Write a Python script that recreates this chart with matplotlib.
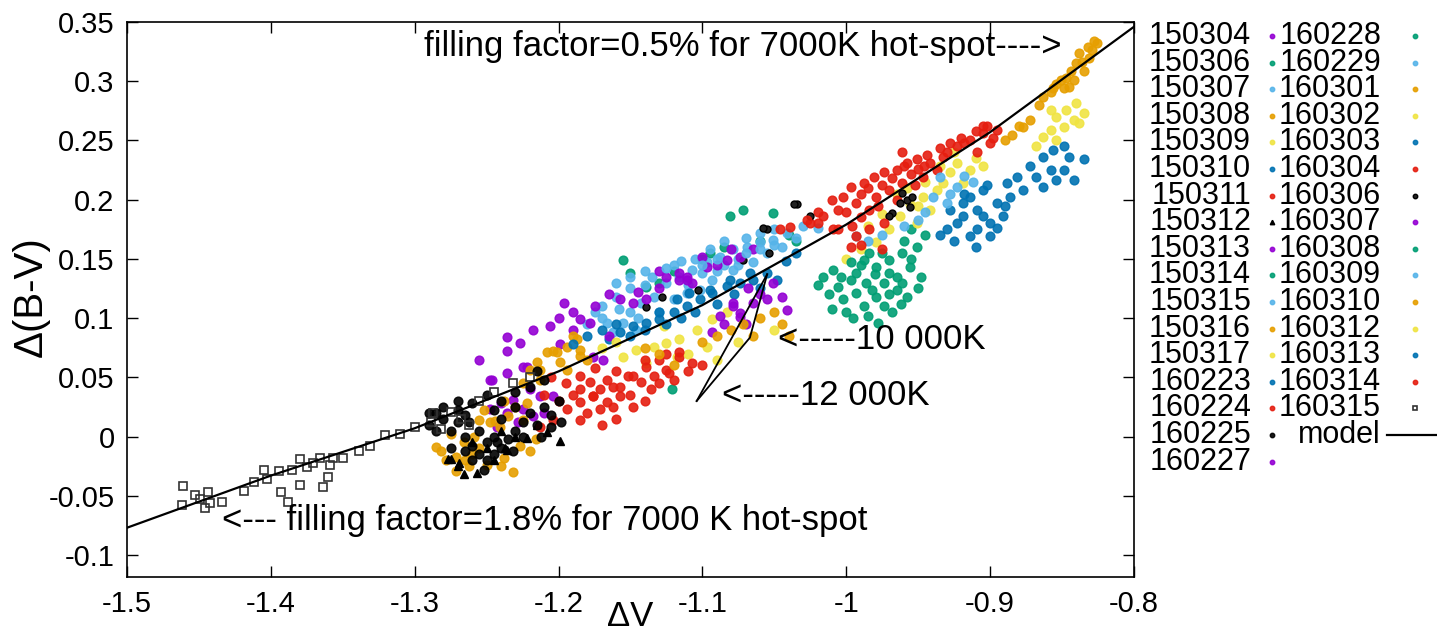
import matplotlib
matplotlib.use("Agg")
import matplotlib.pyplot as plt

plt.rcParams['font.family'] = ['Liberation Sans', 'DejaVu Sans']

# ---------------- data ----------------
labels = ["150304", "150306", "150307", "150308", "150309", "150310", "150311", "150312",
          "150313", "150314", "150315", "150316", "150317", "160223", "160224", "160225",
          "160227", "160228", "160229", "160301", "160302", "160303", "160304", "160306",
          "160307", "160308", "160309", "160310", "160312", "160313", "160314", "160315"]

s150304 = [(-1.236,0.054),(-1.248,0.048),(-1.222,0.059),(-1.248,0.023),(-1.236,0.020),(-1.225,0.023),
           (-1.218,0.017),(-1.232,0.031),(-1.213,0.034),(-1.204,0.034),(-1.243,0.008),(-1.246,0.048),
           (-1.225,0.059),(-1.240,0.028),(-1.228,0.012),(-1.210,0.020),(-1.220,0.040)]
s150306 = [(-1.155,0.149),(-1.150,0.138),(-1.139,0.126),(-1.081,0.186),(-1.072,0.191),(-1.051,0.189),
           (-1.121,0.040),(-1.130,0.130),(-1.095,0.155)]
s150307 = [(-1.162,0.088),(-1.155,0.096),(-1.150,0.105),(-1.143,0.113),(-1.134,0.118),(-1.125,0.130),
           (-1.166,0.096),(-1.146,0.090),(-1.130,0.105),(-1.120,0.116),(-1.170,0.100),(-1.158,0.108),
           (-1.170,0.110),(-1.160,0.118),(-1.150,0.125),(-1.140,0.128),(-1.135,0.135),(-1.180,0.095),
           (-1.175,0.105),(-1.145,0.100)]
s150308 = [(-1.285,-0.009),(-1.282,-0.012),(-1.271,-0.017),(-1.262,-0.025),(-1.250,-0.024),(-1.255,0.014),
           (-1.248,0.012),(-1.241,0.008),(-1.259,0.000),(-1.227,-0.008),(-1.235,0.017),(-1.225,0.014),
           (-1.266,-0.005),(-1.271,-0.029),(-1.244,0.013),(-1.260,-0.015),(-1.238,-0.018),(-1.275,0.002),
           (-1.216,-0.002),(-1.230,0.025),(-1.278,-0.020),(-1.265,-0.020),(-1.255,-0.010),(-1.240,-0.025),
           (-1.232,-0.030),(-1.220,-0.012),(-1.252,0.022),(-1.238,0.030),(-1.222,0.028)]
s150309 = [(-1.155,0.067),(-1.146,0.073),(-1.134,0.076),(-1.125,0.079),(-1.116,0.082),(-1.104,0.090),
           (-1.093,0.099),(-1.083,0.105),(-1.118,0.067),(-1.097,0.076),(-1.139,0.062),(-1.127,0.093)]
s150310 = [(-1.157,0.088),(-1.148,0.093),(-1.139,0.096),(-1.130,0.099),(-1.120,0.105),(-1.111,0.110),
           (-1.102,0.116),(-1.093,0.121),(-1.083,0.127),(-1.074,0.130),(-1.065,0.132),(-1.055,0.138),
           (-1.165,0.082),(-1.150,0.085),(-1.140,0.090),(-1.125,0.095),(-1.115,0.100),(-1.105,0.105),
           (-1.090,0.112),(-1.078,0.120),(-1.060,0.125),(-1.048,0.132)]
s150311 = [(-1.185,0.051),(-1.178,0.046),(-1.171,0.040),(-1.162,0.042),(-1.152,0.051),(-1.143,0.046),
           (-1.134,0.051),(-1.125,0.056),(-1.157,0.034),(-1.166,0.029),(-1.185,0.029),(-1.176,0.034),
           (-1.116,0.067)]
s150312 = [(-1.277,-0.019),(-1.270,-0.025),(-1.266,-0.032),(-1.257,-0.031),(-1.236,-0.011),(-1.222,-0.001),
           (-1.208,0.004),(-1.275,-0.019),(-1.269,-0.022),(-1.237,-0.010),(-1.199,-0.004),(-1.250,-0.010),
           (-1.245,-0.020),(-1.260,-0.005),(-1.230,0.000),(-1.215,0.010),(-1.240,0.005)]
s150313 = [(-1.196,0.113),(-1.185,0.099),(-1.178,0.096),(-1.206,0.093),(-1.218,0.090),(-1.227,0.079),
           (-1.236,0.084),(-1.236,0.072),(-1.199,0.078),(-1.176,0.067),(-1.169,0.065),(-1.255,0.065),
           (-1.190,0.105),(-1.165,0.085),(-1.200,0.100),(-1.190,0.090),(-1.175,0.110),(-1.165,0.120)]
s150314 = [(-1.120,0.140),(-1.100,0.150),(-1.060,0.165),(-1.040,0.170),(-1.085,0.160),(-1.035,0.165),
           (-0.960,0.165),(-0.955,0.175),(-0.945,0.170)]
s150315 = [(-1.116,0.135),(-1.107,0.141),(-1.097,0.147),(-1.088,0.152),(-1.111,0.121),(-1.102,0.124),
           (-1.093,0.132),(-1.079,0.141),(-1.100,0.138),(-1.085,0.145),(-1.120,0.145),(-1.105,0.150),
           (-1.095,0.158),(-1.110,0.128),(-1.090,0.140),(-1.075,0.145)]
s150316 = [(-1.208,0.071),(-1.204,0.072),(-1.199,0.063),(-1.215,0.063),(-1.187,0.082),(-1.220,0.056),
           (-1.213,0.048),(-1.194,0.056),(-1.185,0.068),(-1.201,0.071),(-1.194,0.076),(-1.185,0.073),
           (-1.180,0.065),(-1.213,0.056),(-1.225,0.045),(-1.190,0.085)]
s150317 = [(-1.110,0.070),(-1.090,0.065),(-1.075,0.080),(-1.160,0.080),(-1.170,0.075),(-1.050,0.090),
           (-1.000,0.150),(-0.990,0.158)]
s160223 = [(-1.130,0.105),(-1.118,0.116),(-1.109,0.121),(-1.095,0.124),(-1.081,0.132),(-1.067,0.138),
           (-1.180,0.085),(-1.170,0.090),(-1.160,0.095),(-1.190,0.078),(-1.042,0.148),(-1.035,0.155)]
s160224 = [(-1.185,0.040),(-1.176,0.034),(-1.166,0.048),(-1.157,0.042),(-1.148,0.051),(-1.139,0.059),
           (-1.130,0.065),(-1.123,0.054),(-1.162,0.025),(-1.171,0.023),(-1.194,0.023),(-1.204,0.014),
           (-1.185,0.014),(-1.213,0.008),(-1.148,0.025),(-1.136,0.040),(-1.116,0.071),(-1.107,0.062),
           (-1.200,0.030),(-1.190,0.035),(-1.180,0.020),(-1.170,0.010),(-1.160,0.015),(-1.150,0.035),
           (-1.140,0.030),(-1.130,0.045),(-1.120,0.048),(-1.110,0.055),(-1.100,0.060),(-1.140,0.065),
           (-1.160,0.055),(-1.175,0.058),(-1.195,0.045),(-1.210,0.035),(-1.205,0.050),(-1.125,0.070)]
s160225 = [(-1.290,0.010),(-1.285,0.020),(-1.280,0.015),(-1.275,0.005),(-1.270,0.012),(-1.265,0.000),
           (-1.260,-0.008),(-1.255,-0.015),(-1.250,-0.005),(-1.245,0.000),(-1.240,-0.010),(-1.235,-0.002),
           (-1.230,0.005),(-1.225,0.012),(-1.220,0.020),(-1.215,0.010),(-1.210,0.025),(-1.205,0.018),
           (-1.200,0.030),(-1.260,-0.020),(-1.250,-0.020),(-1.245,-0.015),(-1.255,0.005),(-1.265,0.018),
           (-1.270,0.022),(-1.280,0.025),(-1.260,0.028),(-1.240,0.030),(-1.250,0.035),(-1.230,0.038),
           (-1.220,0.042),(-1.210,0.048),(-1.215,0.055),(-1.230,0.025),(-1.240,0.015),(-1.275,-0.010),
           (-1.265,-0.012),(-1.252,-0.028),(-1.243,-0.005),(-1.232,-0.012),(-1.225,0.000),(-1.212,0.000),
           (-1.205,0.008),(-1.198,0.012),(-1.262,0.012),(-1.285,0.005),(-1.290,0.020),(-1.270,0.030),
           (-1.245,0.022)]
s160227 = [(-1.079,0.110),(-1.074,0.101),(-1.065,0.113),(-1.055,0.116),(-1.093,0.088),(-1.051,0.130),
           (-1.041,0.107),(-1.079,0.113),(-1.074,0.104),(-1.085,0.095),(-1.060,0.120),(-1.068,0.125),
           (-1.045,0.118),(-1.088,0.102),(-1.070,0.095)]
s160228 = [(-1.009,0.141),(-0.997,0.147),(-0.988,0.149),(-0.979,0.143),(-0.970,0.149),(-0.961,0.155),
           (-0.956,0.143),(-0.965,0.135),(-0.974,0.130),(-0.986,0.130),(-0.997,0.132),(-1.006,0.126),
           (-1.016,0.135),(-0.951,0.160),(-0.984,0.155),(-0.993,0.138)]
s160229 = [(-1.079,0.158),(-1.069,0.160),(-1.060,0.164),(-1.051,0.166),(-1.041,0.172),(-1.065,0.147),
           (-1.055,0.155),(-1.045,0.160),(-1.035,0.168),(-1.075,0.150),(-1.030,0.178),(-1.020,0.176),
           (-1.085,0.165),(-1.070,0.168),(-1.060,0.172),(-1.050,0.175)]
s160301 = [(-0.854,0.298),(-0.849,0.294),(-0.842,0.301),(-0.835,0.309),(-0.831,0.320),(-0.826,0.332),
           (-0.832,0.329),(-0.840,0.315),(-0.847,0.303),(-0.858,0.291),(-0.863,0.287),(-0.838,0.324),
           (-0.829,0.326),(-0.845,0.295),(-0.851,0.301),(-0.877,0.261),(-0.872,0.267),(-0.836,0.316),
           (-0.844,0.309),(-0.828,0.334),(-0.856,0.294),(-0.866,0.280)]
s160302 = [(-0.937,0.208),(-0.933,0.214),(-0.947,0.202),(-0.942,0.191),(-0.928,0.223),(-0.956,0.196),
           (-0.963,0.186),(-0.951,0.180),(-0.970,0.175),(-0.979,0.164),(-0.923,0.231),(-0.919,0.214),
           (-0.914,0.225),(-0.965,0.205),(-0.958,0.210),(-0.945,0.215),(-0.935,0.228),(-0.925,0.240),
           (-0.910,0.235),(-0.905,0.228),(-0.975,0.188),(-0.985,0.178),(-0.950,0.195)]
s160303 = [(-0.919,0.197),(-0.914,0.202),(-0.909,0.191),(-0.919,0.186),(-0.905,0.186),(-0.900,0.180),
           (-0.923,0.180),(-0.909,0.175),(-0.895,0.197),(-0.905,0.208),(-0.928,0.191),(-0.914,0.169),
           (-0.900,0.169),(-0.891,0.186),(-0.886,0.202),(-0.930,0.175),(-0.925,0.165),(-0.910,0.160),
           (-0.895,0.176),(-0.890,0.195),(-0.902,0.212),(-0.935,0.170),(-0.918,0.205)]
s160304 = [(-1.002,0.202),(-0.997,0.211),(-0.988,0.214),(-0.981,0.219),(-0.974,0.223),(-0.965,0.225),
           (-0.958,0.231),(-0.951,0.234),(-0.942,0.231),(-0.933,0.236),(-0.923,0.245),(-0.914,0.250),
           (-0.905,0.256),(-0.895,0.259),(-0.900,0.248),(-0.909,0.240),(-1.006,0.191),(-0.993,0.197),
           (-0.979,0.202),(-0.970,0.208),(-0.961,0.214),(-1.016,0.186),(-1.025,0.180),(-0.961,0.240),
           (-0.984,0.191),(-0.947,0.219),(-0.937,0.225),(-1.000,0.190),(-0.990,0.205),(-0.985,0.210),
           (-0.975,0.212),(-0.968,0.218),(-0.955,0.222),(-0.950,0.226),(-0.944,0.238),(-0.935,0.244),
           (-0.928,0.248),(-0.920,0.252),(-0.910,0.258),(-0.905,0.262),(-0.898,0.252),(-0.990,0.185),
           (-0.978,0.195),(-0.965,0.200),(-0.952,0.212),(-1.010,0.200),(-1.020,0.190),(-0.996,0.178),
           (-0.960,0.228),(-0.946,0.228)]
s160306 = [(-0.958,0.200),(-0.954,0.202),(-0.963,0.197),(-0.968,0.189),(-0.956,0.194),(-0.970,0.186),
           (-0.961,0.206),(-1.034,0.196),(-1.025,0.186),(-1.055,0.175),(-1.054,0.155),(-1.072,0.149),
           (-1.036,0.196),(-1.139,0.109),(-1.128,0.118),(-1.103,0.124),(-1.058,0.176)]
s160307 = [(-1.157,0.116),(-1.148,0.113),(-1.139,0.116),(-1.125,0.135),(-1.116,0.138),(-1.111,0.132),
           (-1.097,0.143),(-1.083,0.149),(-1.074,0.152),(-1.065,0.158),(-1.111,0.135),(-1.107,0.130),
           (-1.116,0.132),(-1.130,0.125),(-1.090,0.145),(-1.145,0.122),(-1.130,0.140),(-1.100,0.152),
           (-1.080,0.158)]
s160308 = [(-0.993,0.121),(-0.979,0.118),(-0.965,0.124),(-0.974,0.110),(-0.988,0.110),(-1.002,0.116),
           (-0.970,0.138),(-0.961,0.130),(-1.012,0.120),(-0.982,0.124),(-0.958,0.118),(-0.968,0.105),
           (-0.985,0.102),(-0.948,0.135),(-1.000,0.105),(-1.020,0.128),(-1.010,0.108),(-0.995,0.100),
           (-0.978,0.096),(-0.962,0.112),(-0.950,0.125),(-0.955,0.150),(-0.975,0.155),(-0.990,0.145),
           (-1.004,0.135),(-0.980,0.137),(-0.970,0.120)]
s160309 = [(-0.935,0.219),(-0.923,0.211),(-0.930,0.197),(-0.940,0.202),(-0.993,0.169),(-0.928,0.205),
           (-0.918,0.220),(-0.945,0.190),(-0.950,0.183),(-0.985,0.165),(-0.975,0.170),(-0.960,0.178),
           (-0.912,0.215),(-1.160,0.130),(-1.150,0.135),(-1.140,0.140),(-1.125,0.142),(-1.115,0.148),
           (-1.100,0.145),(-1.090,0.150),(-1.070,0.155),(-1.060,0.158),(-1.050,0.162)]
s160310 = [(-1.100,0.080),(-1.090,0.085),(-1.080,0.090),(-1.072,0.095),(-1.060,0.100),(-1.050,0.105),
           (-1.045,0.095),(-1.130,0.070),(-1.120,0.060),(-1.140,0.075),(-0.885,0.255),(-0.880,0.262),
           (-0.890,0.250),(-1.065,0.085),(-1.040,0.085)]
s160312 = [(-0.858,0.276),(-0.854,0.270),(-0.847,0.276),(-0.842,0.267),(-0.849,0.261),(-0.858,0.259),
           (-0.840,0.282),(-0.838,0.265),(-0.863,0.253),(-0.854,0.250),(-0.868,0.245),(-0.835,0.273)]
s160313 = [(-0.888,0.214),(-0.881,0.219),(-0.872,0.228),(-0.863,0.236),(-0.856,0.242),(-0.849,0.245),
           (-0.845,0.236),(-0.849,0.225),(-0.858,0.225),(-0.835,0.234),(-0.842,0.217),(-0.854,0.217),
           (-0.863,0.211),(-0.877,0.208),(-0.868,0.219)]
s160314 = [(-0.993,0.169),(-0.984,0.175),(-0.997,0.160),(-0.974,0.180),(-1.009,0.175),(-1.046,0.175),
           (-1.039,0.177),(-1.027,0.183),(-1.020,0.180),(-1.006,0.175),(-0.990,0.162),(-0.975,0.158),
           (-0.930,0.240),(-0.918,0.248),(-0.902,0.262)]
s160315 = [(-1.461,-0.042),(-1.462,-0.058),(-1.453,-0.049),(-1.449,-0.053),(-1.444,-0.047),(-1.442,-0.056),
           (-1.434,-0.055),(-1.446,-0.060),(-1.419,-0.046),(-1.412,-0.038),(-1.405,-0.028),(-1.403,-0.036),
           (-1.394,-0.029),(-1.393,-0.047),(-1.388,-0.055),(-1.385,-0.028),(-1.380,-0.019),(-1.380,-0.041),
           (-1.375,-0.026),(-1.371,-0.022),(-1.366,-0.018),(-1.364,-0.043),(-1.360,-0.034),(-1.359,-0.024),
           (-1.357,-0.018),(-1.350,-0.018),(-1.339,-0.012),(-1.331,-0.008),(-1.321,0.001),(-1.310,0.002),
           (-1.300,0.008),(-1.289,0.012),(-1.287,0.020),(-1.275,0.021),(-1.282,0.006),(-1.268,0.015),
           (-1.255,0.030),(-1.245,0.038),(-1.232,0.045),(-1.220,0.050),(-1.262,0.010)]

series = [s150304, s150306, s150307, s150308, s150309, s150310, s150311, s150312,
          s150313, s150314, s150315, s150316, s150317, s160223, s160224, s160225,
          s160227, s160228, s160229, s160301, s160302, s160303, s160304, s160306,
          s160307, s160308, s160309, s160310, s160312, s160313, s160314, s160315]

model_x = [-1.5, -1.4, -1.3, -1.2, -1.1, -1.0, -0.9, -0.8]
model_y = [-0.077, -0.033, 0.007, 0.055, 0.111, 0.179, 0.257, 0.346]

# hot-spot temperature tracks (10 000 K and 12 000 K)
track10_x = [-1.055, -1.067, -1.104]
track10_y = [0.137, 0.0835, 0.030]
track12_x = [-1.055, -1.104]
track12_y = [0.137, 0.030]

xticks = [-1.5, -1.4, -1.3, -1.2, -1.1, -1.0, -0.9, -0.8]
xticklabels = ["-1.5", "-1.4", "-1.3", "-1.2", "-1.1", "-1", "-0.9", "-0.8"]
yticks = [-0.1, -0.05, 0, 0.05, 0.1, 0.15, 0.2, 0.25, 0.3, 0.35]
yticklabels = ["-0.1", "-0.05", "0", "0.05", "0.1", "0.15", "0.2", "0.25", "0.3", "0.35"]

# ---------------- styling ----------------
cycle = ["#9400d3", "#009e73", "#56b4e9", "#e69f00", "#f0e442", "#0072b2", "#e51e10", "#000000"]
W, H = 1437, 635
fig = plt.figure(figsize=(W / 100, H / 100), dpi=100)
ax = fig.add_axes([127 / W, 1 - 577 / H, (1134 - 127) / W, (577 - 22) / H])

FS_TICK = 21
FS_ANN = 25
FS_KEY = 22

def style(i):
    lab = labels[i]
    c = cycle[i % 8]
    if lab == "150312":
        return dict(marker="^", ms=6, mfc=c, mec=c)
    if lab == "160315":
        return dict(marker="s", ms=5.5, mfc="none", mec="#333333", mew=1.2)
    if lab == "160306":
        return dict(marker="o", ms=5, mfc="#222222", mec="#000000")
    return dict(marker="o", ms=6.3, mfc=c, mec=c, alpha=0.9)

for i, pts in enumerate(series):
    xs = [p[0] for p in pts]
    ys = [p[1] for p in pts]
    ax.plot(xs, ys, ls="none", **style(i))

ax.plot(model_x, model_y, color="black", lw=1.6)
ax.plot(track10_x, track10_y, color="black", lw=1.3)
ax.plot(track12_x, track12_y, color="black", lw=1.3)

ax.set_xlim(-1.5, -0.8)
ax.set_ylim(-0.1186, 0.35)
ax.set_xticks(xticks)
ax.set_xticklabels(xticklabels)
ax.set_yticks(yticks)
ax.set_yticklabels(yticklabels)
ax.tick_params(direction="in", length=8, width=1, top=True, right=True, labelsize=FS_TICK, pad=9)
for sp in ax.spines.values():
    sp.set_linewidth(1.2)

fig.text(630 / W, 1 - 617 / H, "ΔV", fontsize=25, ha="center", va="center")
fig.text(31 / W, 1 - 297 / H, "Δ(B-V)", fontsize=29, ha="center", va="center", rotation=90)

ax.text(-1.2936, 0.329, "filling factor=0.5% for 7000K hot-spot---->", fontsize=FS_ANN, va="center", ha="left")
ax.text(-1.434, -0.0708, "<--- filling factor=1.8% for 7000 K hot-spot", fontsize=FS_ANN, va="center", ha="left")
ax.text(-1.0475, 0.0818, "<-----10 000K", fontsize=FS_ANN, va="center", ha="left")
ax.text(-1.0864, 0.0346, "<-----12 000K", fontsize=FS_ANN, va="center", ha="left")

# ---------------- legend (gnuplot-like: label then symbol) ----------------
lax = fig.add_axes([0, 0, 1, 1], facecolor="none")
lax.set_xlim(0, W)
lax.set_ylim(H, 0)
lax.axis("off")
row0, dy = 36, 26.6
entries = labels + ["model"]
for k, lab in enumerate(entries):
    col = 0 if k < 17 else 1
    row = k if k < 17 else k - 17
    y = row0 + row * dy
    xt = 1251 if col == 0 else 1381
    xs = 1272 if col == 0 else 1415
    lax.text(xt, y, lab, fontsize=FS_KEY, ha="right", va="center")
    if lab == "model":
        lax.plot([1387, 1440], [y, y], color="black", lw=1.6, clip_on=False)
    else:
        st = style(k)
        st["ms"] = 3.2
        lax.plot([xs], [y], ls="none", **st)

fig.savefig("out.png", dpi=100)
